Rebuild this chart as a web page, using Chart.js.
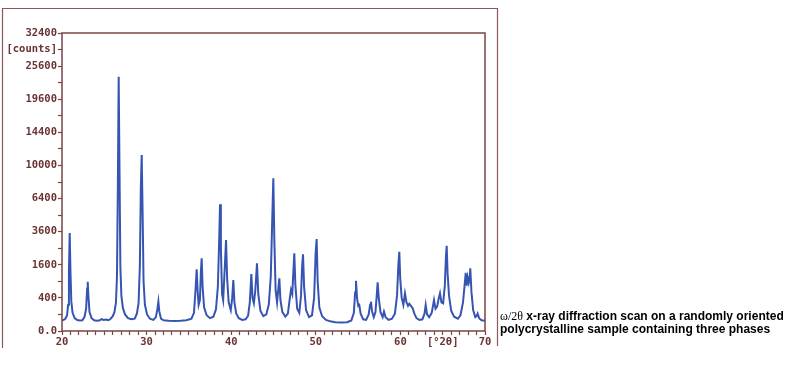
<!DOCTYPE html>
<html>
<head>
<meta charset="utf-8">
<script src="https://cdn.jsdelivr.net/npm/chart.js@4.4.1/dist/chart.umd.min.js"></script>
<style>
  html, body { margin: 0; padding: 0; background: #ffffff; }
  #wrap { position: relative; width: 795px; height: 369px; overflow: hidden; }
  #c { position: absolute; left: 0; top: 0; }
  #caption { position: absolute; left: 500px; top: 310px; font: bold 12px "Liberation Sans", Arial, sans-serif; line-height: 13px; color: #000; white-space: nowrap; }
  #caption .sym { font-family: "Liberation Serif", "DejaVu Serif", serif; font-weight: normal; }
</style>
</head>
<body>
<div id="wrap">
  <canvas id="c" width="795" height="369"></canvas>
  <div id="caption"><span class="sym">ω/2θ</span> x-ray diffraction scan on a randomly oriented<br>polycrystalline sample containing three phases</div>
</div>
<script>
// ---- data (2θ in degrees, intensity in counts) ----
const twoTheta = [
  20.0, 20.2, 20.4, 20.6, 20.72, 20.82, 20.91, 21.0, 21.1, 21.25, 21.5, 21.8,
  22.1, 22.4, 22.65, 22.85, 22.97, 23.04, 23.12, 23.25, 23.5, 23.8, 24.1, 24.4,
  24.7, 24.9, 25.2, 25.5, 25.75, 26.0, 26.2, 26.38, 26.5, 26.6, 26.70, 26.8,
  26.9, 27.02, 27.2, 27.45, 27.8, 28.2, 28.6, 28.85, 29.05, 29.2, 29.32, 29.42,
  29.52, 29.64, 29.8, 30.05, 30.4, 30.8, 31.1, 31.27, 31.39, 31.5, 31.7, 32.0,
  32.6, 33.3, 34.0, 34.7, 35.3, 35.6, 35.78, 35.92, 36.03, 36.15, 36.3, 36.42,
  36.51, 36.62, 36.8, 37.1, 37.5, 37.9, 38.2, 38.42, 38.58, 38.68, 38.78, 38.92,
  39.05, 39.22, 39.39, 39.52, 39.7, 39.95, 40.12, 40.25, 40.38, 40.6, 40.9, 41.3,
  41.7, 42.0, 42.2, 42.38, 42.52, 42.68, 42.85, 43.05, 43.2, 43.45, 43.8, 44.15,
  44.45, 44.68, 44.85, 44.98, 45.1, 45.25, 45.42, 45.57, 45.69, 45.82, 46.05, 46.4,
  46.7, 46.9, 47.07, 47.22, 47.35, 47.46, 47.58, 47.8, 48.05, 48.25, 48.38, 48.49,
  48.62, 48.85, 49.2, 49.55, 49.8, 49.98, 50.1, 50.22, 50.42, 50.75, 51.2, 51.7,
  52.3, 53.0, 53.7, 54.2, 54.5, 54.65, 54.75, 54.88, 55.02, 55.14, 55.3, 55.6,
  55.95, 56.25, 56.42, 56.52, 56.65, 56.85, 57.05, 57.2, 57.31, 57.45, 57.65, 57.9,
  58.06, 58.25, 58.6, 59.0, 59.35, 59.6, 59.76, 59.87, 59.98, 60.15, 60.35, 60.54,
  60.72, 60.9, 61.05, 61.25, 61.45, 61.65, 61.9, 62.25, 62.6, 62.85, 62.99, 63.15,
  63.4, 63.7, 63.97, 64.15, 64.35, 64.52, 64.68, 64.85, 65.05, 65.25, 65.38, 65.47,
  65.58, 65.75, 66.0, 66.35, 66.8, 67.1, 67.4, 67.6, 67.72, 67.84, 67.95, 68.08,
  68.18, 68.26, 68.4, 68.6, 68.85, 69.0, 69.13, 69.3, 69.6, 70.0
];
const counts = [
  42, 45, 55, 90, 250, 1300, 3500, 1300, 320, 120, 60, 44,
  40, 42, 70, 180, 650, 887, 450, 130, 60, 42, 38, 40,
  52, 45, 48, 42, 55, 80, 130, 300, 1100, 7500, 23600, 9000,
  1500, 450, 190, 100, 60, 50, 55, 110, 280, 1500, 7500, 11300,
  5500, 900, 250, 100, 55, 45, 70, 170, 313, 140, 55, 42,
  38, 36, 38, 42, 55, 120, 600, 1390, 600, 250, 350, 1300,
  1927, 700, 200, 90, 60, 75, 170, 700, 3000, 5856, 2500, 500,
  350, 1300, 3021, 1000, 300, 160, 400, 949, 300, 110, 60, 45,
  50, 85, 300, 1185, 400, 280, 600, 1672, 500, 150, 80, 100,
  260, 1100, 4500, 8505, 3000, 600, 300, 650, 1013, 350, 130, 75,
  110, 350, 620, 500, 1300, 2200, 800, 180, 120, 450, 1500, 2145,
  700, 160, 70, 90, 400, 2200, 3088, 900, 200, 80, 45, 34,
  28, 26, 28, 40, 120, 550, 923, 380, 230, 247, 110, 50,
  45, 100, 250, 313, 140, 70, 130, 450, 865, 380, 130, 70,
  136, 70, 45, 55, 110, 450, 1600, 2293, 1000, 400, 250, 519,
  300, 230, 270, 230, 190, 110, 60, 44, 50, 110, 247, 100,
  70, 120, 350, 180, 220, 380, 519, 300, 280, 750, 2000, 2653,
  1200, 450, 150, 75, 55, 90, 300, 800, 1239, 750, 1050, 850,
  1000, 1434, 550, 160, 70, 80, 110, 60, 42, 38
];

// y axis: square-root intensity scale
const yTickValues = [0, 100, 400, 900, 1600, 2500, 3600, 4900, 6400, 8100, 10000, 12100, 14400, 16900, 19600, 22500, 25600, 28900, 32400];
const yTickLabels = ["0.0", "", "400", "", "1600", "", "3600", "", "6400", "", "10000", "", "14400", "", "19600", "", "25600", "[counts]", "32400"];
// x axis
const xTickLabels = { 20: "20", 30: "30", 40: "40", 50: "50", 60: "60", 65: "[°2θ]", 70: "70" };
const xMin = 20, xMax = 70;

class SqrtScale extends Chart.LinearScale {
  _sq() { return [Math.sqrt(Math.max(0, this.min)), Math.sqrt(Math.max(0, this.max))]; }
  getPixelForValue(value) {
    const [a, b] = this._sq();
    const s = Math.sqrt(Math.max(0, value));
    return this.getPixelForDecimal((s - a) / (b - a));
  }
  getValueForPixel(pixel) {
    const [a, b] = this._sq();
    const s = a + this.getDecimalForPixel(pixel) * (b - a);
    return s * s;
  }
}
SqrtScale.id = 'sqrt';
SqrtScale.defaults = {};
Chart.register(SqrtScale);

const AXIS = '#7a4444';
const LABEL = '#6a3232';
const FONT = { family: '"DejaVu Sans Mono", monospace', size: 10.5, weight: 'bold' };

const framePlugin = {
  id: 'frame',
  afterDraw(chart) {
    const { ctx, chartArea: ca } = chart;
    ctx.save();
    ctx.strokeStyle = AXIS;
    ctx.lineWidth = 1.5;
    ctx.strokeRect(ca.left, ca.top, ca.right - ca.left, ca.bottom - ca.top);
    // outer page frame of the scanned sheet
    ctx.strokeStyle = '#8a5a5a';
    ctx.lineWidth = 1.2;
    ctx.beginPath();
    ctx.moveTo(2.5, 348);
    ctx.lineTo(2.5, 8.5);
    ctx.lineTo(497.5, 8.5);
    ctx.lineTo(497.5, 346);
    ctx.stroke();
    ctx.restore();
  }
};

new Chart(document.getElementById('c'), {
  type: 'line',
  data: {
    datasets: [{
      data: twoTheta.map((x, i) => ({ x, y: counts[i] })),
      borderColor: '#3654b2',
      borderWidth: 2,
      pointRadius: 0,
      tension: 0,
      fill: false
    }]
  },
  options: {
    responsive: false,
    animation: false,
    devicePixelRatio: 1,
    layout: { padding: { left: 0, top: 33, right: 310, bottom: 0 } },
    plugins: { legend: { display: false }, tooltip: { enabled: false } },
    scales: {
      x: {
        type: 'linear',
        min: xMin, max: xMax,
        afterBuildTicks(scale) {
          const t = [];
          for (let v = xMin; v <= xMax; v++) t.push({ value: v });
          scale.ticks = t;
        },
        afterFit(scale) { scale.height = 38; },
        grid: { drawOnChartArea: false, tickLength: 4, tickColor: AXIS, tickWidth: 1.2 },
        border: { display: false },
        ticks: {
          autoSkip: false, maxRotation: 0, padding: 1,
          color: LABEL, font: FONT,
          callback: (v) => xTickLabels[v] !== undefined ? xTickLabels[v] : ''
        }
      },
      y: {
        type: 'sqrt',
        min: 0, max: 32400,
        afterBuildTicks(scale) { scale.ticks = yTickValues.map(v => ({ value: v })); },
        afterFit(scale) { scale.width = 62; },
        grid: { drawOnChartArea: false, tickLength: 4, tickColor: AXIS, tickWidth: 1.2 },
        border: { display: false },
        ticks: {
          autoSkip: false, padding: 1,
          color: LABEL, font: FONT,
          callback: (v, i) => yTickLabels[i]
        }
      }
    }
  },
  plugins: [framePlugin]
});
</script>
</body>
</html>
